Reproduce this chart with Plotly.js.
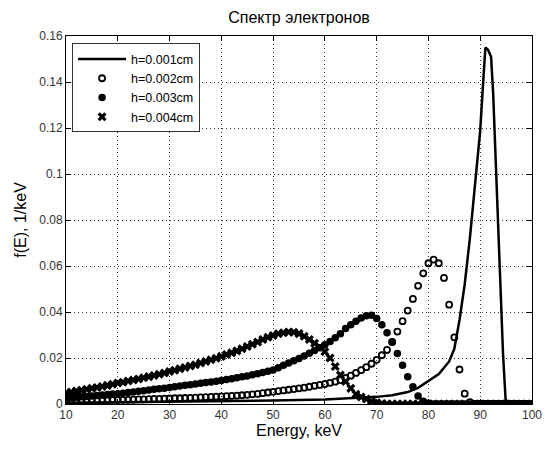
<!DOCTYPE html>
<html>
<head>
<meta charset="utf-8">
<script src="https://cdn.plot.ly/plotly-3.0.1.min.js"></script>
<style>html,body{margin:0;padding:0;background:#fff;}#chart{width:545px;height:450px;}</style>
</head>
<body>
<div id="chart"></div>
<script>
// Energy grid for marker series (keV)
const energy = [10,11,12,13,14,15,16,17,18,19,20,21,22,23,24,25,26,27,28,29,30,31,32,33,34,35,36,37,38,39,40,41,42,43,44,45,46,47,48,49,50,51,52,53,54,55,56,57,58,59,60,61,62,63,64,65,66,67,68,69,70,71,72,73,74,75,76,77,78,79,80,81,82,83,84,85,86,87,88,89,90,91,92,93,94,95,96,97,98,99,100];

// h=0.001cm (solid line)
const energyLine = [10,20,30,40,50,60,65,70,73,76,78,80,82,84,85,86,87,88,89,90,90.6,91,91.5,92.1,92.5,93.1,93.5,93.9,94.4,94.9,95.5,100];
const h001 = [0.0005,0.0007,0.0009,0.0011,0.0015,0.0020,0.0024,0.0031,0.0038,0.0052,0.0070,0.0100,0.0130,0.0185,0.0240,0.0365,0.052,0.072,0.095,0.119,0.141,0.155,0.154,0.151,0.135,0.097,0.072,0.045,0.022,0.002,0,0];

// h=0.002cm (open circles)
const h002 = [0.0012,0.0013,0.0013,0.0014,0.0014,0.0015,0.0015,0.0016,0.0016,0.0017,0.0017,0.0018,0.0018,0.0019,0.0020,0.0020,0.0021,0.0022,0.0022,0.0023,0.0024,0.0025,0.0025,0.0026,0.0027,0.0028,0.0029,0.0030,0.0031,0.0032,0.0033,0.0034,0.0035,0.0036,0.0038,0.0040,0.0042,0.0044,0.0047,0.0050,0.0053,0.0056,0.0059,0.0062,0.0065,0.0068,0.0071,0.0075,0.0079,0.0083,0.0087,0.0092,0.0097,0.0104,0.0113,0.0123,0.0135,0.0147,0.0160,0.0175,0.0192,0.0212,0.0235,0.0270,0.0315,0.0360,0.0406,0.0457,0.0514,0.0568,0.0612,0.0628,0.0612,0.0548,0.0432,0.0290,0.0150,0.0045,0.0008,0,0,0,0,0,0,0,0,0,0,0,0];

// h=0.003cm (filled circles)
const h003 = [0.0025,0.0027,0.0029,0.0031,0.0033,0.0035,0.0037,0.0039,0.0041,0.0043,0.0045,0.0047,0.0050,0.0052,0.0055,0.0058,0.0061,0.0064,0.0066,0.0069,0.0072,0.0075,0.0078,0.0081,0.0084,0.0087,0.0090,0.0093,0.0096,0.0099,0.0102,0.0106,0.0110,0.0114,0.0118,0.0122,0.0127,0.0132,0.0137,0.0142,0.0148,0.0158,0.0168,0.0178,0.0188,0.0198,0.0209,0.0221,0.0233,0.0245,0.0258,0.0272,0.0288,0.0305,0.0328,0.0345,0.0360,0.0374,0.0384,0.0386,0.0372,0.0345,0.0310,0.0270,0.0220,0.0168,0.0119,0.0075,0.0035,0.0012,0.0003,0,0,0,0,0,0,0,0,0,0,0,0,0,0,0,0,0,0,0,0];

// h=0.004cm (crosses)
const h004 = [0.0048,0.0052,0.0056,0.0060,0.0064,0.0068,0.0072,0.0076,0.0081,0.0086,0.0091,0.0095,0.0100,0.0104,0.0109,0.0114,0.0119,0.0124,0.0129,0.0135,0.0141,0.0147,0.0153,0.0159,0.0165,0.0171,0.0178,0.0185,0.0192,0.0199,0.0207,0.0215,0.0223,0.0231,0.0240,0.0250,0.0260,0.0270,0.0280,0.0290,0.0298,0.0305,0.0310,0.0313,0.0312,0.0306,0.0295,0.0280,0.0264,0.0247,0.0227,0.0200,0.0163,0.0126,0.0098,0.0068,0.0042,0.0030,0.0022,0.0012,0.0005,0.0002,0,0,0,0,0,0,0,0,0,0,0,0,0,0,0,0,0,0,0,0,0,0,0,0,0,0,0,0,0];

const seriesNames = ['h=0.001cm','h=0.002cm','h=0.003cm','h=0.004cm'];
const xTicks = [10,20,30,40,50,60,70,80,90,100];
const yTicks = [0,0.02,0.04,0.06,0.08,0.1,0.12,0.14,0.16];
const yTickText = ['0','0.02','0.04','0.06','0.08','0.1','0.12','0.14','0.16'];

const traces = [
  {x: energyLine, y: h001, name: seriesNames[0], mode: 'lines', line: {color: '#000', width: 2.5}},
  {x: energy, y: h002, name: seriesNames[1], mode: 'markers', marker: {symbol: 'circle-open', size: 6, color: '#000', line: {width: 1.8, color: '#000'}}},
  {x: energy, y: h003, name: seriesNames[2], mode: 'markers', marker: {symbol: 'circle', size: 7.5, color: '#000'}},
  {x: energy, y: h004, name: seriesNames[3], mode: 'markers', marker: {symbol: 'x', size: 8, color: '#000'}}
];

const fontFam = 'Liberation Sans, Arial, sans-serif';
const axisCommon = {
  showline: true, linecolor: '#000', linewidth: 1, mirror: 'ticks',
  ticks: 'inside', ticklen: 5, tickcolor: '#000',
  showgrid: true, gridcolor: '#333', griddash: '1px,3px', gridwidth: 1,
  zeroline: false,
  tickfont: {family: fontFam, size: 12, color: '#333'}
};

const layout = {
  width: 545, height: 450,
  paper_bgcolor: '#fff', plot_bgcolor: '#fff',
  margin: {l: 66, r: 13, t: 36, b: 46},
  title: {text: 'Спектр электронов', xref: 'paper', x: 0.5, xanchor: 'center', yref: 'container', y: 0.962, yanchor: 'middle',
          font: {family: fontFam, size: 16, color: '#000'}},
  xaxis: Object.assign({}, axisCommon, {
    range: [10, 100], tickvals: xTicks, ticktext: xTicks.map(String),
    title: {text: 'Energy, keV', standoff: 2, font: {family: fontFam, size: 16, color: '#000'}}
  }),
  yaxis: Object.assign({}, axisCommon, {
    range: [0, 0.16], tickvals: yTicks, ticktext: yTickText,
    title: {text: 'f(E), 1/keV', standoff: 8, font: {family: fontFam, size: 16, color: '#000'}}
  }),
  showlegend: true,
  legend: {x: 0.013, y: 0.98, xanchor: 'left', yanchor: 'top', bgcolor: '#fff', bordercolor: '#333', borderwidth: 1,
           itemwidth: 48,
           font: {family: fontFam, size: 12.5, color: '#000'}, tracegroupgap: 0}
};

Plotly.newPlot('chart', traces, layout, {displayModeBar: false, staticPlot: true});
</script>
</body>
</html>
